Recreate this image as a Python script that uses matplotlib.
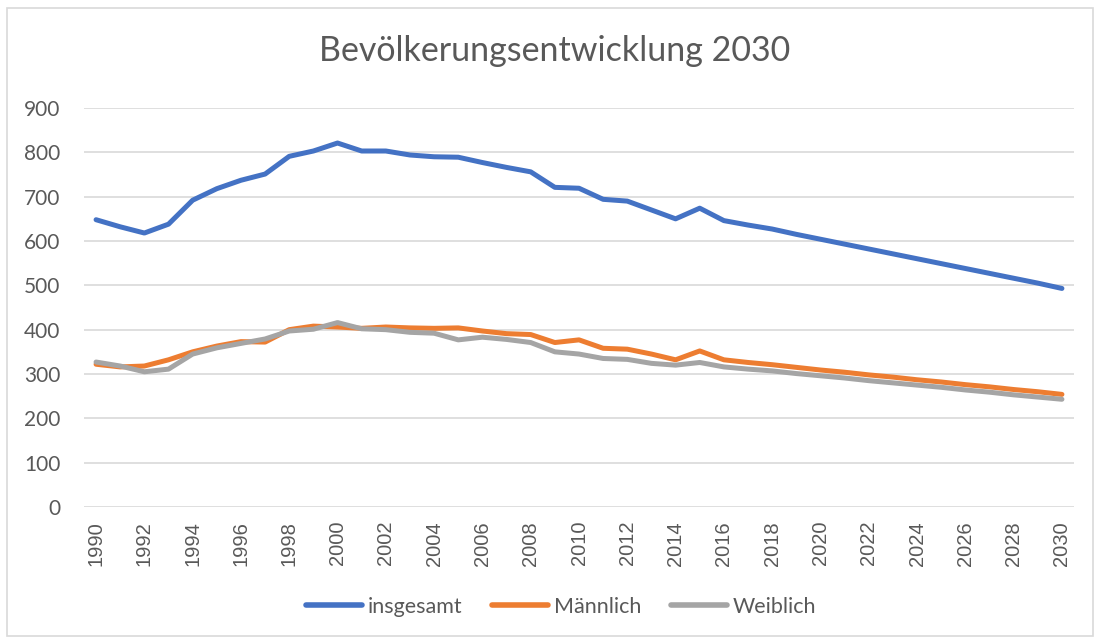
import matplotlib
matplotlib.use("Agg")
import matplotlib.pyplot as plt
from matplotlib.patches import Rectangle

years = list(range(1990, 2031))
insgesamt = [648, 632, 618, 638, 692, 718, 737, 751, 791, 803, 821, 803, 803, 794, 790, 789,
             777, 766, 756, 721, 719, 694, 690, 670, 650, 674, 646, 636, 627, 615, 604,
             593, 582, 571, 560, 549, 538, 527, 516, 505, 493]
maennlich = [322, 316, 318, 332, 350, 363, 373, 372, 400, 408, 406, 403, 406, 404, 403, 404,
             397, 391, 389, 371, 377, 358, 356, 345, 332, 352, 332, 326, 321, 315, 309,
             304, 298, 293, 287, 282, 276, 271, 265, 260, 254]
weiblich = [327, 318, 305, 311, 345, 359, 369, 379, 397, 401, 416, 402, 400, 394, 392, 377,
            383, 378, 371, 350, 345, 335, 333, 324, 320, 326, 316, 311, 307, 301, 296,
            291, 285, 280, 275, 270, 264, 259, 253, 248, 243]
labels = ["insgesamt", "Männlich", "Weiblich"]
colors = ["#4472C4", "#ED7D31", "#A5A5A5"]

plt.rcParams['font.family'] = ['Lato', 'DejaVu Sans']
txt = "#595959"

fig = plt.figure(figsize=(11, 6.44), dpi=100)
fig.patches.append(Rectangle((7/1100, 8/644), 1086/1100, 628/644, transform=fig.transFigure,
                             fill=False, edgecolor="#D9D9D9", linewidth=1.2))
ax = fig.add_axes([84/1100, 1 - 507/644, 990/1100, 399/644])

for s, lab, c in zip([insgesamt, maennlich, weiblich], labels, colors):
    ax.plot(years, s, color=c, linewidth=3.6, label=lab, solid_capstyle='round', solid_joinstyle='round')

ax.set_xlim(1989.5, 2030.5)
ax.set_ylim(0, 900)
ax.set_yticks(range(0, 901, 100))
ax.set_xticks(years[::2])
ax.set_xticklabels([str(y) for y in years[::2]], rotation=90, fontsize=14.5, color=txt,
                   family=['Liberation Sans'])
ax.tick_params(axis='y', labelsize=15, colors=txt, length=0, pad=17)
ax.tick_params(axis='x', length=0, pad=10, colors=txt)
ax.grid(axis='y', color="#D9D9D9", linewidth=1.2)
ax.set_axisbelow(True)
for sp in ax.spines.values():
    sp.set_visible(False)

fig.text(555/1100, 1 - 51/644, "Bevölkerungsentwicklung 2030", ha='center', va='center',
         fontsize=24.5, color=txt)

leg = fig.legend(loc='center', bbox_to_anchor=(561/1100, 1 - 607/644), ncol=3, frameon=False,
                 fontsize=15.5, handlelength=2.6, columnspacing=1.4, handletextpad=0.25)
for t in leg.get_texts():
    t.set_color(txt)
for h in leg.get_lines():
    h.set_linewidth(4.0)

fig.savefig("out.png", dpi=100)
